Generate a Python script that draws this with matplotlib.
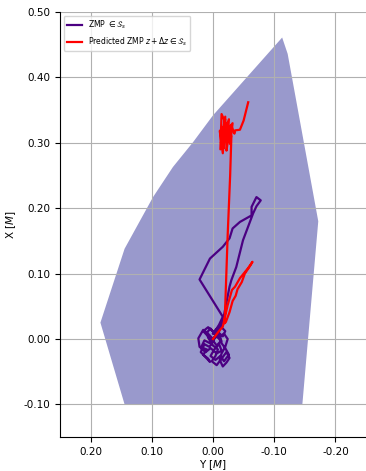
import numpy as np
import matplotlib.pyplot as plt
from matplotlib.ticker import FormatStrFormatter

# support polygon S_s, vertices as (Y, X) in metres
poly_y = [-0.113, -0.122, -0.172, -0.146, 0.1445, 0.184, 0.1445, 0.098, 0.0655, 0.0326, 0.0]
poly_x = [0.461, 0.436, 0.180, -0.100, -0.100, 0.025, 0.138, 0.217, 0.263, 0.301, 0.342]

# measured ZMP trajectory
zmp_y = [0.000, 0.008, 0.016, 0.024, 0.022, 0.010, 0.016, 0.008, 0.005, 0.012, 0.020,
         0.014, 0.006, 0.000, -0.004, 0.004, 0.010, 0.008, 0.000, -0.008, -0.004, 0.002,
         -0.006, -0.014, -0.022, -0.027, -0.022, -0.016, -0.011, -0.014, -0.020, -0.024,
         -0.018, -0.010, -0.004, -0.012, -0.020, -0.016, -0.008, -0.002, 0.006, 0.014,
         0.020, 0.012, 0.004, -0.006, -0.014, -0.010, -0.002, 0.004, -0.004, -0.012,
         -0.018, -0.026, -0.020, -0.012, -0.006, 0.002, 0.010, 0.016, 0.008, -0.002,
         -0.010, -0.016,
         0.022, 0.005, -0.016, -0.027, -0.032, -0.044, -0.063, -0.063, -0.071, -0.078,
         -0.071, -0.0655, -0.049, -0.038, -0.030, -0.027, -0.016, -0.010, -0.002, 0.004,
         -0.006, -0.014, -0.008, 0.000]
zmp_x = [0.000, 0.008, 0.014, 0.001, -0.012, -0.016, -0.024, -0.030, -0.035, -0.028, -0.020,
         -0.008, -0.012, -0.004, 0.006, 0.016, 0.010, 0.002, -0.010, -0.016, -0.026, -0.034,
         -0.040, -0.030, -0.020, -0.029, -0.036, -0.042, -0.032, -0.022, -0.012, 0.000,
         0.008, 0.004, 0.014, 0.020, 0.012, 0.004, 0.010, 0.002, -0.006, -0.002,
         -0.014, -0.020, -0.014, -0.022, -0.018, -0.008, -0.016, -0.026, -0.032, -0.026,
         -0.034, -0.024, -0.014, -0.004, -0.010, 0.000, 0.006, 0.012, 0.018, 0.010,
         0.022, 0.034,
         0.091, 0.123, 0.141, 0.154, 0.169, 0.179, 0.189, 0.202, 0.217, 0.212,
         0.203, 0.192, 0.151, 0.110, 0.090, 0.080, 0.027, 0.012, 0.002, -0.006,
         0.004, -0.004, 0.016, 0.008]

# predicted ZMP z + dz
pred_y = [0.000, -0.008, -0.016, -0.024, -0.031, -0.036, -0.044, -0.057, -0.0645,
          -0.060, -0.052, -0.047, -0.040, -0.037, -0.032, -0.027, -0.021, -0.019,
          -0.024, -0.028, -0.030, -0.014, -0.012, -0.020, -0.016, -0.011, -0.024,
          -0.018, -0.020, -0.013, -0.028, -0.022, -0.026, -0.016, -0.032, -0.028,
          -0.030, -0.035, -0.036, -0.044, -0.050, -0.0575]
pred_x = [0.000, 0.010, 0.019, 0.052, 0.075, 0.080, 0.093, 0.108, 0.118,
          0.111, 0.100, 0.087, 0.076, 0.066, 0.058, 0.041, 0.026, 0.024,
          0.160, 0.250, 0.310, 0.344, 0.290, 0.336, 0.284, 0.318, 0.330,
          0.292, 0.340, 0.300, 0.326, 0.288, 0.336, 0.310, 0.330, 0.298,
          0.326, 0.314, 0.319, 0.320, 0.334, 0.362]

fig = plt.figure(figsize=(3.66, 4.71), dpi=100)
ax = fig.add_axes([0.164, 0.072, 0.836, 0.9025])

ax.fill(poly_y, poly_x, color='navy', alpha=0.4, linewidth=0)
ax.plot(zmp_y, zmp_x, color='indigo', lw=1.6, label=r'ZMP $\in \mathcal{S}_s$')
ax.plot(pred_y, pred_x, color='red', lw=1.6,
        label=r'Predicted ZMP $z + \Delta z \in \mathcal{S}_s$')

ax.set_xlim(0.25, -0.25)
ax.set_ylim(-0.15, 0.50)
ax.set_xticks([0.2, 0.1, 0.0, -0.1, -0.2])
ax.set_yticks([0.5, 0.4, 0.3, 0.2, 0.1, 0.0, -0.1])
ax.xaxis.set_major_formatter(FormatStrFormatter('%.2f'))
ax.yaxis.set_major_formatter(FormatStrFormatter('%.2f'))
ax.tick_params(labelsize=7.5)
ax.set_xlabel(r'Y [$M$]', fontsize=7.5, labelpad=1)
ax.set_ylabel(r'X [$M$]', fontsize=7.5)
ax.spines['top'].set_visible(False)
ax.spines['right'].set_visible(False)
ax.grid(True)
ax.legend(loc='upper left', fontsize=5.5)

fig.savefig('out.png', dpi=100)
